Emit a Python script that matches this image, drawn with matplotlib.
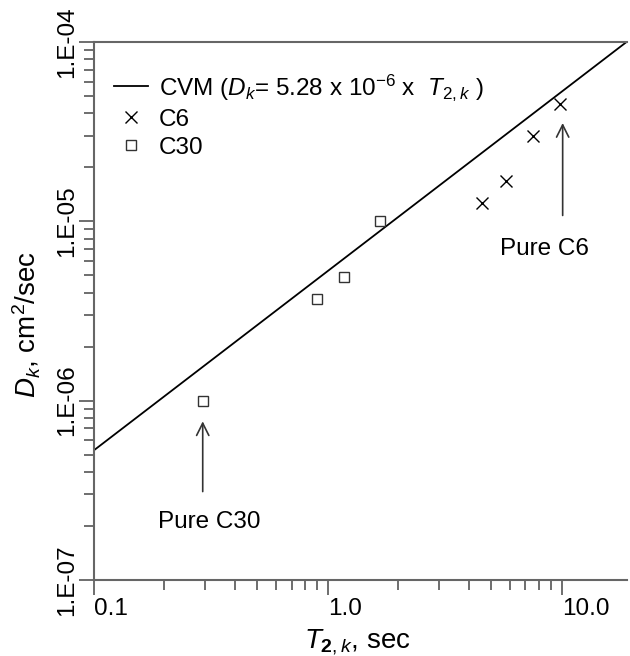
import numpy as np
import matplotlib
matplotlib.use("Agg")
import matplotlib.pyplot as plt
from matplotlib.ticker import FixedLocator, LogLocator, NullFormatter

plt.rcParams['font.family'] = 'Liberation Sans'
plt.rcParams['mathtext.fontset'] = 'custom'
plt.rcParams['mathtext.rm'] = 'Liberation Sans'
plt.rcParams['mathtext.it'] = 'Liberation Sans:italic'
plt.rcParams['mathtext.bf'] = 'Liberation Sans:bold'

# data
cvm_slope = 5.28e-6
t_line = [0.1, 20.0]
c6_t = [4.55, 5.76, 7.52, 9.8]
c6_d = [1.26e-5, 1.67e-5, 2.98e-5, 4.5e-5]
c30_t = [0.292, 0.898, 1.17, 1.68]
c30_d = [1.0e-6, 3.71e-6, 4.87e-6, 1.0e-5]
x_ticks = [0.1, 1.0, 10.0]
x_labels = ["0.1", "1.0", "10.0"]
y_ticks = [1e-7, 1e-6, 1e-5, 1e-4]
y_labels = ["1.E-07", "1.E-06", "1.E-05", "1.E-04"]

fig = plt.figure(figsize=(6.3, 6.56), dpi=100)
ax = fig.add_axes([0.149, 0.116, 0.846, 0.820])

d_line = [cvm_slope * t for t in t_line]
ax.plot(t_line, d_line, color='black', lw=1.3,
        label=r"CVM ($D_k$= 5.28 x 10$^{-6}$ x  $T_{2,k}$ )")
ax.plot(c6_t, c6_d, 'x', color='black', ms=9, mew=1.0, label="C6")
ax.plot(c30_t, c30_d, 's', mfc='none', mec='#333333', ms=7, mew=1.0, label="C30")

ax.set_xscale('log')
ax.set_yscale('log')
ax.set_xlim(0.1, 19)
ax.set_ylim(1e-7, 1e-4)

ax.xaxis.set_major_locator(FixedLocator(x_ticks))
ax.set_xticklabels(x_labels, ha='left')
ax.yaxis.set_major_locator(FixedLocator(y_ticks))
ax.set_yticklabels(y_labels, rotation=90, va='center')
ax.xaxis.set_minor_locator(LogLocator(base=10, subs=np.arange(2, 10)))
ax.yaxis.set_minor_locator(LogLocator(base=10, subs=np.arange(2, 10)))
ax.xaxis.set_minor_formatter(NullFormatter())
ax.yaxis.set_minor_formatter(NullFormatter())

ax.tick_params(which='major', direction='out', length=11, width=1.2,
               color='#555555', labelsize=17.5)
ax.tick_params(axis='x', which='major', pad=2)
ax.tick_params(axis='y', which='major', pad=0)
ax.tick_params(which='minor', direction='out', length=7, width=1.2, color='#555555')
ax.spines['right'].set_visible(False)
for s in ['left', 'bottom', 'top']:
    ax.spines[s].set_color('#666666')
    ax.spines[s].set_linewidth(1.5)

ax.set_xlabel(r"$T_{\mathbf{2},k}$, sec", fontsize=20)
ax.xaxis.set_label_coords(0.495, -0.088)
ax.set_ylabel(r"$D_k$, cm$^2$/sec", fontsize=20)
ax.yaxis.set_label_coords(-0.095, 0.475)

ax.annotate('', xy=(10.1, 3.66e-5), xytext=(10.1, 1.04e-5),
            arrowprops=dict(arrowstyle='->', color='#333333', lw=1.2,
                            mutation_scale=22))
ax.text(8.46, 6.98e-6, "Pure C6", fontsize=17.5, ha='center', va='center')
ax.annotate('', xy=(0.292, 7.94e-7), xytext=(0.292, 3.0e-7),
            arrowprops=dict(arrowstyle='->', color='#333333', lw=1.2,
                            mutation_scale=22))
ax.text(0.31, 2.11e-7, "Pure C30", fontsize=17.5, ha='center', va='center')

ax.legend(loc='upper left', bbox_to_anchor=(0.01, 0.972), frameon=False,
          fontsize=17.5, handlelength=1.4, handletextpad=0.45,
          labelspacing=0.25, borderaxespad=0.2)

fig.savefig("out.png", dpi=100)
